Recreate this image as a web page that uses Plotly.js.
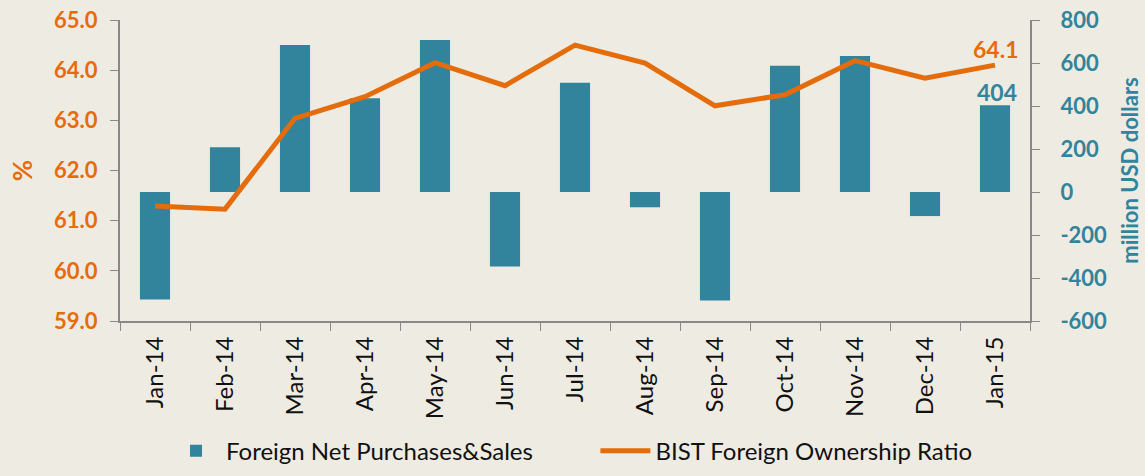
<!DOCTYPE html>
<html>
<head>
<meta charset="utf-8">
<script src="https://cdn.plot.ly/plotly-3.0.1.min.js"></script>
<style>html,body{margin:0;padding:0;background:#EEEBE3;}</style>
</head>
<body>
<div id="chart" style="width:1145px;height:476px;"></div>
<script>
const months = ["Jan-14","Feb-14","Mar-14","Apr-14","May-14","Jun-14","Jul-14","Aug-14","Sep-14","Oct-14","Nov-14","Dec-14","Jan-15"];
const netPurchases = [-500, 208, 684, 436, 707, -347, 508, -71, -505, 587, 633, -112, 404];
const ownershipRatio = [61.29, 61.23, 63.04, 63.47, 64.15, 63.69, 64.50, 64.14, 63.29, 63.51, 64.19, 63.84, 64.1];
const leftTicks = [59, 60, 61, 62, 63, 64, 65];
const rightTicks = [-600, -400, -200, 0, 200, 400, 600, 800];

const orange = "#E46C0A";
const teal = "#31849B";
const font = "Lato, 'Open Sans', sans-serif";

const traces = [
  {type:"bar", x:months, y:netPurchases, name:"Foreign Net Purchases&Sales", yaxis:"y",
   marker:{color:teal}, width:0.43, legend:"legend"},
  {type:"scatter", mode:"lines", x:months, y:ownershipRatio, name:"BIST Foreign Ownership Ratio",
   yaxis:"y2", line:{color:orange, width:5}, legend:"legend2"}
];

const last = months.length - 1;
const legendFont = {size:24, color:"#111", family:font};
const layout = {
  width:1145, height:476,
  paper_bgcolor:"#EEEBE3", plot_bgcolor:"#EEEBE3",
  margin:{l:120, r:115, t:20, b:155, autoexpand:false},
  font:{family:font},
  showlegend:true,
  legend:{orientation:"h", x:0.145, xref:"container", xanchor:"left", y:0.005, yref:"container", yanchor:"bottom",
          font:legendFont, itemwidth:50},
  legend2:{orientation:"h", x:0.52, xref:"container", xanchor:"left", y:0.005, yref:"container", yanchor:"bottom",
          font:legendFont, itemwidth:50},
  xaxis:{type:"category", tickson:"boundaries", ticks:"outside", ticklen:8, tickcolor:"#888",
         showline:true, linecolor:"#888", linewidth:2, tickangle:-90, showgrid:false,
         tickfont:{size:24, color:"#111", family:font}, range:[-0.5, 12.5], ticklabelstandoff:4},
  yaxis:{side:"right", range:[-600, 800], tickvals:rightTicks, ticktext:rightTicks.map(v=>String(v)),
          ticks:"outside", ticklen:8, tickcolor:"#888", showline:true, linecolor:"#888", linewidth:2,
          showgrid:false, zeroline:false, ticklabelstandoff:16,
          tickfont:{size:22, color:teal, family:font, weight:"bold"},
          title:{text:"million USD dollars", font:{size:22, color:teal, family:font, weight:"bold"}, standoff:16}},
  yaxis2:{overlaying:"y", side:"left", range:[59, 65], tickvals:leftTicks, ticktext:leftTicks.map(v=>v.toFixed(1)),
         ticks:"outside", ticklen:8, tickcolor:"#888", showline:true, linecolor:"#888", linewidth:2,
         showgrid:false, zeroline:false, ticklabelstandoff:8,
         tickfont:{size:22, color:orange, family:font, weight:"bold"},
         title:{text:"%", font:{size:26, color:orange, family:font, weight:"bold"}, standoff:14}},
  annotations:[
    {x:months[last], y:ownershipRatio[last], xref:"x", yref:"y2", text:ownershipRatio[last].toFixed(1),
     showarrow:false, yanchor:"bottom", yshift:0, xshift:0,
     font:{size:23, color:orange, family:font, weight:"bold"}},
    {x:months[last], y:netPurchases[last], xref:"x", yref:"y", text:String(netPurchases[last]),
     showarrow:false, yanchor:"bottom", yshift:-3, xshift:2,
     font:{size:23, color:teal, family:font, weight:"bold"}}
  ]
};

Plotly.newPlot("chart", traces, layout, {displayModeBar:false, staticPlot:true});
</script>
</body>
</html>
